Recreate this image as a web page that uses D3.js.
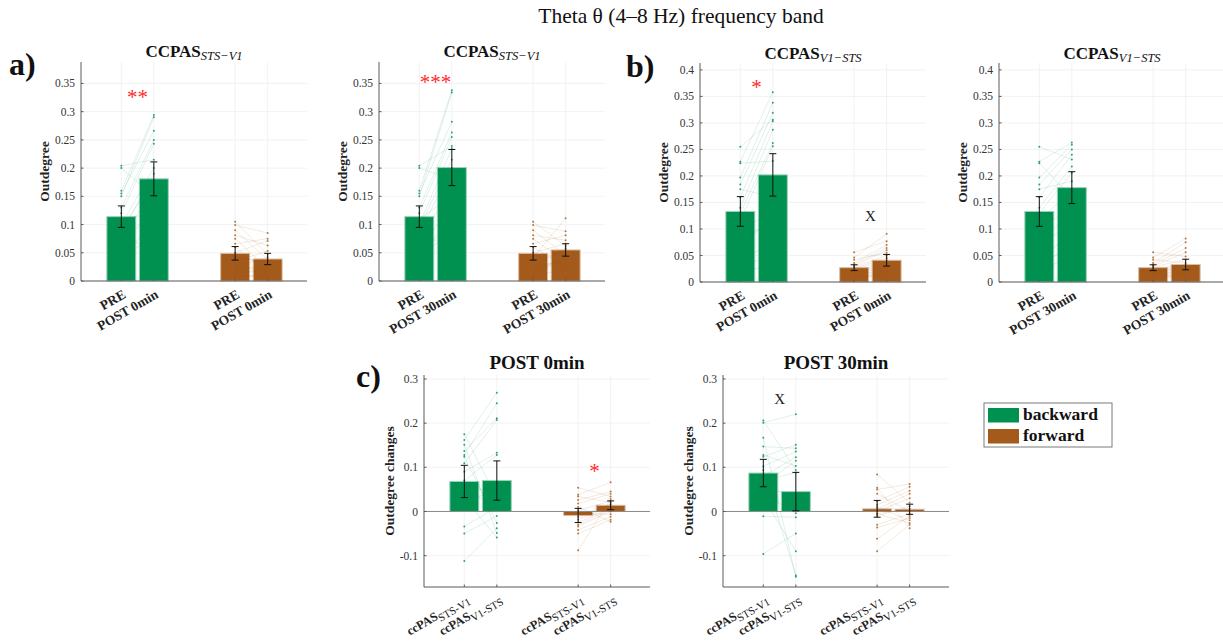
<!DOCTYPE html>
<html>
<head>
<meta charset="utf-8">
<script src="https://cdn.jsdelivr.net/npm/d3@7"></script>
<style>
  body { margin: 0; background: #fff; }
  svg { display: block; }
  text { font-family: "Liberation Serif", "DejaVu Serif", serif; }
</style>
</head>
<body>
<div id="app"></div>
<script>
// bar order in every panel: backward (2 bars), forward (2 bars)
const barPositions = [1, 2, 4.5, 5.5];
const barColors = ["#00904f", "#00904f", "#a35a1a", "#a35a1a"];

const labelsPost0 = ["PRE", "POST 0min", "PRE", "POST 0min"];
const labelsPost30 = ["PRE", "POST 30min", "PRE", "POST 30min"];
const labelsChange = ["STS-V1", "V1-STS", "STS-V1", "V1-STS"];

const ticksSts = [0, 0.05, 0.1, 0.15, 0.2, 0.25, 0.3, 0.35];
const ticksV1 = [0, 0.05, 0.1, 0.15, 0.2, 0.25, 0.3, 0.35, 0.4];
const ticksChange = [-0.1, 0, 0.1, 0.2, 0.3];

// bar means and standard errors
const meansStsPost0 = [0.114, 0.181, 0.049, 0.039];
const semStsPost0 = [0.019, 0.030, 0.012, 0.010];
const meansStsPost30 = [0.114, 0.201, 0.049, 0.055];
const semStsPost30 = [0.019, 0.032, 0.012, 0.011];
const meansV1Post0 = [0.133, 0.202, 0.027, 0.041];
const semV1Post0 = [0.028, 0.040, 0.0055, 0.011];
const meansV1Post30 = [0.133, 0.178, 0.027, 0.033];
const semV1Post30 = [0.028, 0.030, 0.0055, 0.010];
const meansChg0 = [0.068, 0.070, -0.009, 0.014];
const semChg0 = [0.0365, 0.0445, 0.016, 0.010];
const meansChg30 = [0.087, 0.045, 0.006, 0.005];
const semChg30 = [0.031, 0.0435, 0.019, 0.0115];

// single subjects (same subject order inside each pair)
const stsPreBack = [0.204, 0.200, 0.160, 0.155, 0.150, 0.130, 0.120, 0.110, 0.100, 0.095, 0.085, 0.078, 0.070, 0.060, 0.045, 0.040];
const stsPost0Back = [0.215, 0.150, 0.294, 0.266, 0.290, 0.250, 0.243, 0.120, 0.200, 0.175, 0.190, 0.160, 0.065, 0.130, 0.100, 0.080];
const stsPost30Back = [0.239, 0.180, 0.338, 0.282, 0.334, 0.263, 0.255, 0.150, 0.235, 0.215, 0.200, 0.160, 0.075, 0.130, 0.110, 0.090];
const stsPreFwd = [0.105, 0.099, 0.090, 0.081, 0.075, 0.066, 0.060, 0.050, 0.042, 0.035, 0.030, 0.025, 0.020, 0.015, 0.010, 0.008];
const stsPost0Fwd = [0.047, 0.085, 0.038, 0.063, 0.022, 0.075, 0.015, 0.071, 0.033, 0.053, 0.012, 0.042, 0.028, 0.018, 0.008, 0.010];
const stsPost30Fwd = [0.062, 0.088, 0.046, 0.072, 0.034, 0.081, 0.025, 0.066, 0.111, 0.055, 0.030, 0.058, 0.042, 0.038, 0.020, 0.050];

const v1PreBack = [0.255, 0.227, 0.224, 0.197, 0.184, 0.175, 0.160, 0.140, 0.130, 0.115, 0.100, 0.085, 0.070, 0.045, 0.030, 0.020];
const v1Post0Back = [0.306, 0.358, 0.228, 0.338, 0.319, 0.160, 0.303, 0.287, 0.262, 0.256, 0.130, 0.110, 0.120, 0.070, 0.050, 0.030];
const v1Post30Back = [0.231, 0.263, 0.160, 0.259, 0.250, 0.190, 0.240, 0.218, 0.206, 0.175, 0.140, 0.125, 0.110, 0.090, 0.070, 0.050];
const v1PreFwd = [0.056, 0.046, 0.042, 0.036, 0.033, 0.030, 0.028, 0.026, 0.024, 0.022, 0.020, 0.018, 0.016, 0.014, 0.012, 0.010];
const v1Post0Fwd = [0.077, 0.091, 0.055, 0.070, 0.064, 0.060, 0.050, 0.045, 0.040, 0.035, 0.030, 0.025, 0.020, 0.015, 0.012, 0.010];
const v1Post30Fwd = [0.048, 0.082, 0.036, 0.075, 0.064, 0.056, 0.042, 0.032, 0.028, 0.025, 0.022, 0.018, 0.015, 0.012, 0.010, 0.008];

const chg0Back1 = [0.175, 0.162, 0.151, 0.137, 0.128, 0.124, 0.109, 0.090, 0.070, 0.050, 0.030, 0.010, -0.034, -0.050, -0.112, 0.040];
const chg0Back2 = [0.030, 0.269, -0.049, 0.211, 0.245, -0.026, 0.207, 0.133, 0.128, 0.050, -0.059, 0.060, 0.010, -0.010, -0.038, 0.020];
const chg0Fwd1 = [0.054, 0.038, 0.034, 0.026, 0.018, 0.010, 0.002, -0.005, -0.012, -0.018, -0.025, -0.030, -0.034, -0.042, -0.050, -0.088];
const chg0Fwd2 = [0.034, 0.066, 0.020, 0.045, 0.040, -0.023, 0.024, -0.006, 0.016, 0.012, 0.008, 0.004, 0.000, -0.012, -0.019, 0.028];
const chg30Back1 = [0.206, 0.201, 0.167, 0.147, 0.128, 0.124, 0.102, 0.094, 0.080, 0.070, 0.060, 0.050, 0.041, 0.030, -0.011, -0.096];
const chg30Back2 = [0.094, 0.220, -0.148, 0.143, 0.103, 0.151, 0.136, -0.145, 0.123, 0.088, 0.115, 0.040, -0.004, -0.090, -0.013, -0.050];
const chg30Fwd1 = [0.084, 0.054, 0.050, 0.040, 0.023, 0.015, 0.010, 0.005, 0.000, -0.005, -0.010, -0.005, -0.030, -0.036, -0.062, -0.090];
const chg30Fwd2 = [0.020, -0.038, 0.062, 0.000, 0.056, 0.047, -0.020, 0.040, 0.030, -0.026, 0.012, 0.006, -0.005, -0.015, -0.010, -0.030];

const legendLabels = ["backward", "forward"];
const legendColors = ["#00904f", "#a35a1a"];

const W = 1223, H = 642, AXW = 226;
const red = "#ff2a2a";

const svg = d3.select("#app").append("svg")
    .attr("width", W)
    .attr("height", H);

const panels = [
  {left: 81, top: 62, bottom: 281, yDomain: [0, 0.388], ticks: ticksSts, means: meansStsPost0, sem: semStsPost0,
   subjects: [[stsPreBack, stsPost0Back], [stsPreFwd, stsPost0Fwd]], labels: labelsPost0, title: ["CCPAS", "STS\u2212V1"],
   titleY: 57, ylabel: "Outdegree", notes: [{t: "**", x: 1.5, y: 0.326, c: red, s: 21}]},
  {left: 379, top: 62, bottom: 281, yDomain: [0, 0.388], ticks: ticksSts, means: meansStsPost30, sem: semStsPost30,
   subjects: [[stsPreBack, stsPost30Back], [stsPreFwd, stsPost30Fwd]], labels: labelsPost30, title: ["CCPAS", "STS\u2212V1"],
   titleY: 57, ylabel: "Outdegree", notes: [{t: "***", x: 1.5, y: 0.354, c: red, s: 21}]},
  {left: 700, top: 63, bottom: 282, yDomain: [0, 0.413], ticks: ticksV1, means: meansV1Post0, sem: semV1Post0,
   subjects: [[v1PreBack, v1Post0Back], [v1PreFwd, v1Post0Fwd]], labels: labelsPost0, title: ["CCPAS", "V1\u2212STS"],
   titleY: 59, ylabel: "Outdegree", notes: [{t: "*", x: 1.5, y: 0.368, c: red, s: 21}, {t: "X", x: 5, y: 0.124, c: "#222", s: 15}]},
  {left: 999, top: 63, bottom: 282, yDomain: [0, 0.413], ticks: ticksV1, means: meansV1Post30, sem: semV1Post30,
   subjects: [[v1PreBack, v1Post30Back], [v1PreFwd, v1Post30Fwd]], labels: labelsPost30, title: ["CCPAS", "V1\u2212STS"],
   titleY: 59, ylabel: "Outdegree", notes: []},
  {left: 424, top: 375, bottom: 587, yDomain: [-0.171, 0.309], ticks: ticksChange, means: meansChg0, sem: semChg0,
   subjects: [[chg0Back1, chg0Back2], [chg0Fwd1, chg0Fwd2]], labels: labelsChange, title: ["POST 0min"], change: true,
   titleY: 369, ylabel: "Outdegree changes", notes: [{t: "*", x: 5, y: 0.092, c: red, s: 21}]},
  {left: 723, top: 375, bottom: 587, yDomain: [-0.171, 0.309], ticks: ticksChange, means: meansChg30, sem: semChg30,
   subjects: [[chg30Back1, chg30Back2], [chg30Fwd1, chg30Fwd2]], labels: labelsChange, title: ["POST 30min"], change: true,
   titleY: 369, ylabel: "Outdegree changes", notes: [{t: "X", x: 1.5, y: 0.256, c: "#222", s: 15}]}
];

const fmt = v => String(+v.toFixed(2));

panels.forEach(p => {
  const x = d3.scaleLinear().domain([-0.24, 6.71]).range([0, AXW]);
  const y = d3.scaleLinear().domain(p.yDomain).range([p.bottom, p.top]);
  const bw = x(0.89) - x(0);
  const g = svg.append("g").attr("transform", `translate(${p.left},0)`);

  // grid
  g.append("g").selectAll("line").data(p.ticks).join("line")
      .attr("x1", 0).attr("x2", AXW)
      .attr("y1", d => y(d)).attr("y2", d => y(d))
      .attr("stroke", "#efefef").attr("stroke-width", 0.8);
  g.append("g").selectAll("line").data(barPositions).join("line")
      .attr("x1", d => x(d)).attr("x2", d => x(d))
      .attr("y1", p.top).attr("y2", p.bottom)
      .attr("stroke", "#efefef").attr("stroke-width", 0.8);

  // bars
  g.append("g").selectAll("rect").data(p.means).join("rect")
      .attr("x", (d, i) => x(barPositions[i]) - bw / 2)
      .attr("width", bw)
      .attr("y", d => Math.min(y(d), y(0)))
      .attr("height", d => Math.abs(y(d) - y(0)))
      .attr("fill", (d, i) => barColors[i])
      .attr("stroke", (d, i) => d3.interpolateRgb(barColors[i], "#fff")(0.6))
      .attr("stroke-width", 1);

  if (p.change) {
    g.append("line")
        .attr("x1", 0).attr("x2", AXW)
        .attr("y1", y(0)).attr("y2", y(0))
        .attr("stroke", "#8a8a8a").attr("stroke-width", 1);
  }

  // single-subject lines and dots
  p.subjects.forEach((pair, k) => {
    const xa = x(barPositions[2 * k]), xb = x(barPositions[2 * k + 1]);
    const col = barColors[2 * k];
    const sg = g.append("g");
    sg.selectAll("line").data(d3.zip(pair[0], pair[1])).join("line")
        .attr("x1", xa).attr("x2", xb)
        .attr("y1", d => y(d[0])).attr("y2", d => y(d[1]))
        .attr("stroke", col).attr("stroke-opacity", 0.14).attr("stroke-width", 0.9);
    [xa, xb].forEach((xx, j) => {
      sg.selectAll(null).data(pair[j]).join("circle")
          .attr("cx", xx).attr("cy", d => y(d)).attr("r", 1)
          .attr("fill", col).attr("opacity", 0.8);
    });
  });

  // error bars
  const eg = g.append("g").attr("stroke", "#111").attr("stroke-width", 1);
  p.means.forEach((m, i) => {
    const xc = x(barPositions[i]);
    eg.append("line").attr("x1", xc).attr("x2", xc).attr("y1", y(m - p.sem[i])).attr("y2", y(m + p.sem[i]));
    [m - p.sem[i], m + p.sem[i]].forEach(v => {
      eg.append("line").attr("x1", xc - 3.5).attr("x2", xc + 3.5).attr("y1", y(v)).attr("y2", y(v));
    });
  });

  // axes
  g.append("line").attr("x1", 0).attr("x2", 0).attr("y1", p.top).attr("y2", p.bottom)
      .attr("stroke", "#5a5a5a").attr("stroke-width", 1);
  g.append("line").attr("x1", 0).attr("x2", AXW).attr("y1", p.bottom).attr("y2", p.bottom)
      .attr("stroke", "#5a5a5a").attr("stroke-width", 1);
  g.append("g").selectAll("line").data(p.ticks).join("line")
      .attr("x1", 0).attr("x2", 2.5).attr("y1", d => y(d)).attr("y2", d => y(d))
      .attr("stroke", "#5a5a5a");
  g.append("g").selectAll("line").data(barPositions).join("line")
      .attr("x1", d => x(d)).attr("x2", d => x(d)).attr("y1", p.bottom).attr("y2", p.bottom - 2.5)
      .attr("stroke", "#5a5a5a");

  g.append("g").selectAll("text").data(p.ticks).join("text")
      .attr("x", -6).attr("y", d => y(d)).attr("dy", "0.35em")
      .attr("text-anchor", "end").attr("font-size", 11.5).attr("fill", "#333")
      .text(fmt);

  // x tick labels, rotated
  p.labels.forEach((lab, i) => {
    const t = g.append("text")
        .attr("transform", `translate(${x(barPositions[i]) + 3},${p.bottom + (p.change ? 9 : 12)}) rotate(-30)`)
        .attr("text-anchor", "end").attr("dy", "0.35em")
        .attr("fill", "#222");
    if (p.change) {
      t.append("tspan").attr("font-weight", "bold").attr("font-size", 12.5).text("ccPAS");
      t.append("tspan").attr("font-size", 11).attr("dy", 3.5).text(lab);
    } else {
      t.attr("font-weight", "bold").attr("font-size", 13.5).text(lab);
    }
  });

  // y label
  g.append("text")
      .attr("transform", `translate(${p.change ? -30 : -32},${(p.top + p.bottom) / 2}) rotate(-90)`)
      .attr("text-anchor", "middle").attr("font-weight", "bold").attr("font-size", 13.5)
      .attr("fill", "#222")
      .text(p.ylabel);

  // title
  const tt = g.append("text").attr("x", AXW / 2).attr("y", p.titleY)
      .attr("text-anchor", "middle").attr("fill", "#111");
  if (p.title.length > 1) {
    tt.append("tspan").attr("font-weight", "bold").attr("font-size", 17).text(p.title[0]);
    tt.append("tspan").attr("font-style", "italic").attr("font-size", 12.5).attr("dy", 3).text(p.title[1]);
  } else {
    tt.attr("font-weight", "bold").attr("font-size", 19).text(p.title[0]);
  }

  // significance marks
  p.notes.forEach(n => {
    g.append("text").attr("x", x(n.x)).attr("y", y(n.y)).attr("dy", "0.35em")
        .attr("text-anchor", "middle").attr("font-size", n.s).attr("fill", n.c)
        .text(n.t);
  });
});

// panel letters
[["a)", 9, 75], ["b)", 626, 77], ["c)", 356, 387]].forEach(([t, px, py]) => {
  svg.append("text").attr("x", px).attr("y", py)
      .attr("font-size", 32).attr("font-weight", "bold").attr("fill", "#111").text(t);
});

// main title
svg.append("text").attr("x", 681).attr("y", 23).attr("text-anchor", "middle")
    .attr("font-size", 21.5).attr("fill", "#111")
    .text("Theta \u03b8 (4\u20138 Hz) frequency band");

// legend
const lg = svg.append("g").attr("transform", "translate(984,403)");
lg.append("rect").attr("width", 128).attr("height", 44)
    .attr("fill", "#fff").attr("stroke", "#7a7a7a").attr("stroke-width", 1);
legendLabels.forEach((lab, i) => {
  lg.append("rect").attr("x", 4).attr("y", 5 + i * 21).attr("width", 31).attr("height", 14.5)
      .attr("fill", legendColors[i]);
  lg.append("text").attr("x", 39).attr("y", 17 + i * 21)
      .attr("font-size", 17.5).attr("font-weight", "bold").attr("fill", "#111").text(lab);
});
</script>
</body>
</html>
